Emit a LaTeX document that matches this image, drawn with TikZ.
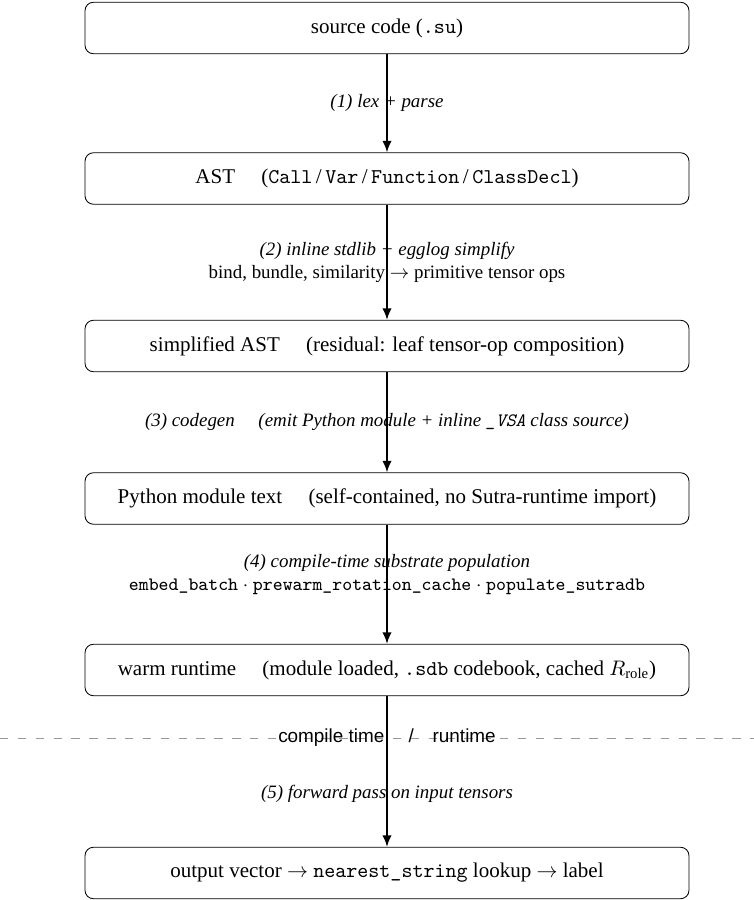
\documentclass[tikz,border=0pt]{standalone}
\usepackage{fontspec}
\setmainfont{Liberation Serif}
\setsansfont{Liberation Sans}
\usetikzlibrary{arrows.meta}
\begin{document}
\begin{tikzpicture}[x=0.476pt,y=-0.476pt,
    stage/.style={draw, rounded corners=4pt, minimum width=287.5pt, minimum height=24.5pt},
    flow/.style={-{Latex[length=5.5pt,width=4.5pt]}, line width=0.9pt},
    note/.style={align=center, font=\small\itshape}]
  \useasboundingbox (0,0) rectangle (754,900);

  \node[stage] (src) at (387,28) {source code (\texttt{.su})};
  \node[stage] (ast) at (387,178.5) {AST \quad (\texttt{Call}\,/\,\texttt{Var}\,/\,\texttt{Function}\,/\,\texttt{ClassDecl})};
  \node[stage] (simp) at (387,346) {simplified AST \quad (residual: leaf tensor-op composition)};
  \node[stage] (pymod) at (387,498.5) {Python module text \quad (self-contained, no Sutra-runtime import)};
  \node[stage] (warm) at (387,670) {warm runtime \quad (module loaded, \texttt{.sdb} codebook, cached $R_{\mathrm{role}}$)};
  \node[stage] (out) at (387,873) {output vector $\rightarrow$ \texttt{nearest\_string} lookup $\rightarrow$ label};

  \draw[gray!80, dash pattern=on 4pt off 4.5pt] (0,738) coordinate (cutl) -- (754,738) coordinate (cutr);
  \node[font=\sffamily\small] (cut) at (387,738) {compile time \quad/\quad runtime};

  \draw[flow] (src) -- node[note] (l1) {(1) lex + parse} (ast);
  \draw[flow] (ast) -- node[note] (l2) {(2) inline stdlib + egglog simplify\\
    \upshape bind, bundle, similarity $\rightarrow$ primitive tensor ops} (simp);
  \draw[flow] (simp) -- node[note] (l3) {(3) codegen \quad (emit Python module + inline \texttt{\_VSA} class source)} (pymod);
  \draw[flow] (pymod) -- node[note, pos=0.42] (l4) {(4) compile-time substrate population\\
    \upshape\texttt{embed\_batch} $\cdot$ \texttt{prewarm\_rotation\_cache} $\cdot$ \texttt{populate\_sutradb}} (warm);
  \draw[flow] (warm) -- node[note, pos=0.65] (l5) {(5) forward pass on input tensors} (out);
\end{tikzpicture}
\end{document}
